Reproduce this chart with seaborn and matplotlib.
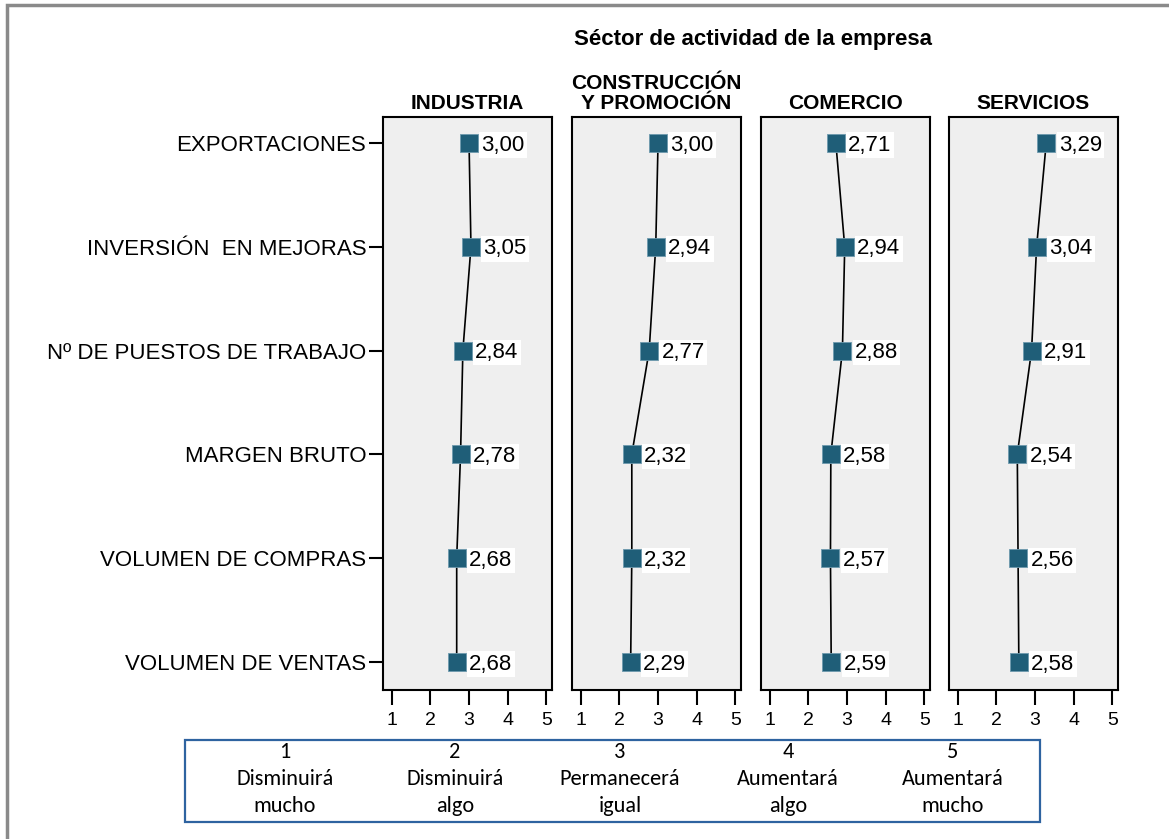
import numpy as np
import pandas as pd
import matplotlib
matplotlib.use("Agg")
import matplotlib.pyplot as plt
import seaborn as sns
from matplotlib.patches import Rectangle

sns.set_style("white")
plt.rcParams['font.family'] = 'sans-serif'
plt.rcParams['font.sans-serif'] = ['Liberation Sans', 'DejaVu Sans']
plt.rcParams['text.color'] = 'black'
plt.rcParams['xtick.color'] = 'black'
plt.rcParams['ytick.color'] = 'black'
plt.rcParams['axes.labelcolor'] = 'black'

categories = ["EXPORTACIONES", "INVERSIÓN  EN MEJORAS", "Nº DE PUESTOS DE TRABAJO",
              "MARGEN BRUTO", "VOLUMEN DE COMPRAS", "VOLUMEN DE VENTAS"]
sectors = ["INDUSTRIA", "CONSTRUCCIÓN\nY PROMOCIÓN", "COMERCIO", "SERVICIOS"]
industria = [3.00, 3.05, 2.84, 2.78, 2.68, 2.68]
construccion = [3.00, 2.94, 2.77, 2.32, 2.32, 2.29]
comercio = [2.71, 2.94, 2.88, 2.58, 2.57, 2.59]
servicios = [3.29, 3.04, 2.91, 2.54, 2.56, 2.58]
scale_ticks = [1, 2, 3, 4, 5]
scale_labels = ["1\nDisminuirá\nmucho", "2\nDisminuirá\nalgo", "3\nPermanecerá\nigual",
                "4\nAumentará\nalgo", "5\nAumentará\nmucho"]

series = [industria, construccion, comercio, servicios]
W, H = 1169, 839
fig = plt.figure(figsize=(W / 100, H / 100), dpi=100)

marker_color = "#1F5E78"
lefts = [383, 572, 761, 949]
pw = 169
top, bottom = 117, 690

for i, (sector, vals) in enumerate(zip(sectors, series)):
    ax = fig.add_axes([lefts[i] / W, 1 - bottom / H, pw / W, (bottom - top) / H])
    df = pd.DataFrame({"valor": vals, "pos": np.arange(len(categories))})
    sns.lineplot(data=df, x="valor", y="pos", orient="y", sort=False, estimator=None,
                 color="black", lw=1.2, ax=ax, zorder=2)
    sns.scatterplot(data=df, x="valor", y="pos", marker="s", s=150, color=marker_color,
                    edgecolor="#6E9AAE", linewidth=0.6, ax=ax, zorder=3)
    for v, p in zip(df["valor"], df["pos"]):
        ax.annotate(f"{v:.2f}".replace(".", ","), (v, p), xytext=(9, -1.5),
                    textcoords="offset points", va="center", ha="left", fontsize=16,
                    bbox=dict(boxstyle="square,pad=0.1", fc="white", ec="none"), zorder=4)
    ax.set_facecolor("#EFEFEF")
    ax.set_xlim(0.77, 5.15)
    ax.set_ylim(5.27, -0.25)
    ax.set_xticks(scale_ticks)
    ax.set_xticklabels([str(t) for t in scale_ticks])
    ax.tick_params(axis="x", length=11, width=1.5, labelsize=14, pad=5, bottom=True)
    ax.set_xlabel("")
    ax.set_ylabel("")
    for sp in ax.spines.values():
        sp.set_color("black")
        sp.set_linewidth(1.5)
    if i == 0:
        ax.set_yticks(np.arange(len(categories)))
        ax.set_yticklabels(categories)
        ax.tick_params(axis="y", length=10, width=1.5, labelsize=16, pad=2, left=True)
    else:
        ax.set_yticks([])
    ax.set_title(sector, fontsize=15, fontweight="bold", pad=6, linespacing=1.05)

fig.text(753 / W, 1 - 40 / H, "Séctor de actividad de la empresa", ha="center", va="center",
         fontsize=16, fontweight="bold")

# legend box with scale meaning
fig.add_artist(Rectangle((185 / W, 1 - 822 / H), 855 / W, 82 / H, transform=fig.transFigure,
                         fill=False, ec="#2E63A0", lw=1.6))
centers = [285, 455, 620, 788, 953]
for cx, lab in zip(centers, scale_labels):
    fig.text(cx / W, 1 - 779 / H, lab, ha="center", va="center", fontsize=16,
             family=["Carlito", "Lato", "DejaVu Sans"], linespacing=1.45)

# outer frame (left and top edges)
fig.add_artist(Rectangle((7 / W, -0.1), 1.2, 1.1 - 5 / H, transform=fig.transFigure,
                         fill=False, ec="#8A8A8A", lw=2.5, clip_on=False))

fig.savefig("out.png", dpi=100)
